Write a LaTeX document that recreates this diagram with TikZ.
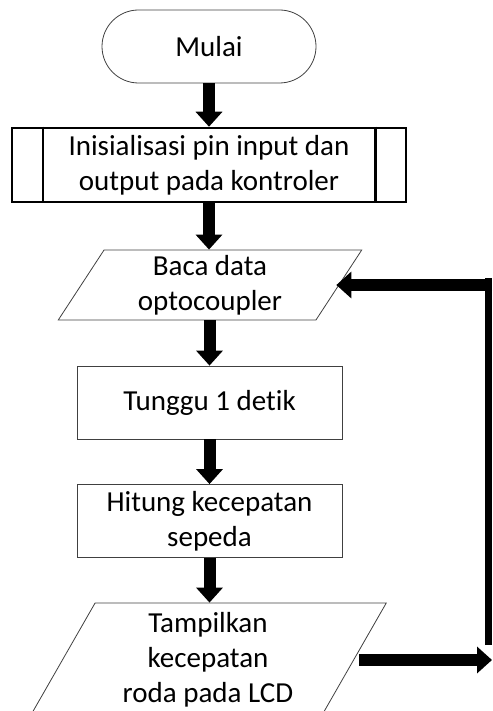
\documentclass[tikz,border=0pt]{standalone}
\usepackage{fontspec}
\setmainfont[Ligatures=NoCommon]{Carlito}
\usetikzlibrary{shapes.geometric,shapes.misc,arrows.meta}
\begin{document}
\begin{tikzpicture}[x=1pt,y=-1pt,
  base/.style={draw=black!75, line width=0.8pt, align=center, inner sep=0pt,
    font=\fontsize{29}{35}\selectfont},
  termbox/.style={base, rounded rectangle, minimum width=214pt, minimum height=73pt},
  procbox/.style={base, rectangle, minimum width=265pt, minimum height=73pt},
  predef/.style={base, draw=black, line width=2.5pt, rectangle, minimum width=394pt, minimum height=74pt},
  iobox/.style={base, trapezium, trapezium left angle=62.5, trapezium right angle=117.5,
    trapezium stretches=true},
  flow/.style={line width=12pt, -{Triangle[width=26pt,length=15pt]}},
]
\useasboundingbox (0,0) rectangle (492,711);
\clip (0,0) rectangle (492,711);

\node[termbox] (start) at (209,46.5) {Mulai};
\node[predef] (init) at (209,165) {Inisialisasi pin input dan\\output pada kontroler};
\draw[line width=2.5pt] ([xshift=32pt]init.north west) -- ([xshift=32pt]init.south west);
\draw[line width=2.5pt] ([xshift=-32pt]init.north east) -- ([xshift=-32pt]init.south east);
\node[iobox, minimum width=304pt, minimum height=70pt] (read) at (210,285) {Baca data\\optocoupler};
\node[procbox] (wait) at (209.5,402.5) {Tunggu 1 detik};
\node[procbox] (calc) at (209.5,521) {Hitung kecepatan\\sepeda};
\node[iobox, minimum width=357pt, minimum height=114pt] (show) at (208,660) {Tampilkan\\kecepatan\\roda pada LCD};

\draw[flow] (start.south) -- (start.south |- init.north);
\draw[flow] (init.south) -- (init.south |- read.north);
\draw[flow] (read.south -| wait.north) -- (wait.north);
\draw[flow] (wait.south) -- (calc.north);
\draw[flow] (calc.south) -- (calc.south |- show.north);

\coordinate (rx) at (492,0);
\coordinate (vb) at (488.5,645);
\coordinate (vt) at (488.5,278);
\draw[flow, shorten <=5pt] (show.east) -- (show.east -| rx);
\draw[line width=6.5pt] (vb) -- (vt);
\draw[flow, shorten >=-3pt] (read.east -| rx) -- (read.east);
\end{tikzpicture}
\end{document}
